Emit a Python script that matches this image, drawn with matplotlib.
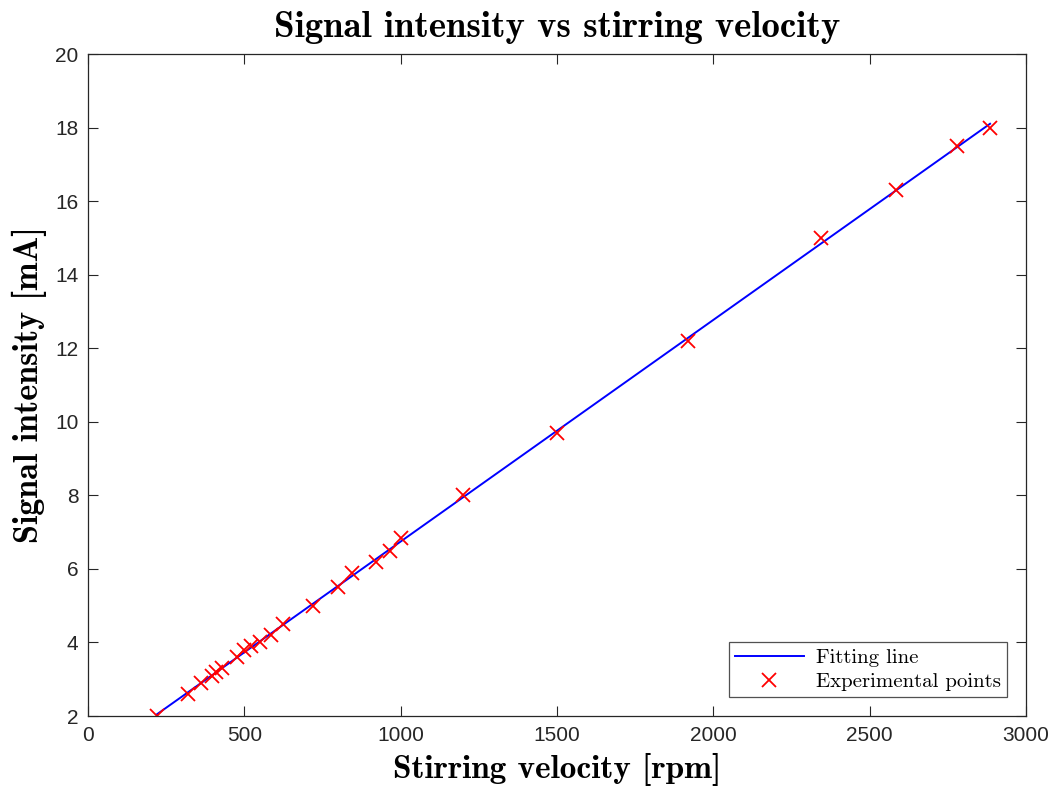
import numpy as np
import matplotlib
matplotlib.use("Agg")
import matplotlib.pyplot as plt

# Data
rpm = [220, 320, 360, 395, 410, 430, 475, 500, 520, 550, 585, 625,
       720, 800, 845, 920, 965, 1000, 1200, 1500, 1920, 2345, 2585, 2780, 2885]
signal = [2.0, 2.6, 2.9, 3.1, 3.2, 3.3, 3.6, 3.8, 3.9, 4.0, 4.2, 4.5,
          5.0, 5.5, 5.9, 6.2, 6.5, 6.85, 8.0, 9.7, 12.2, 15.0, 16.3, 17.5, 18.0]
xticks = [0, 500, 1000, 1500, 2000, 2500, 3000]
yticks = [2, 4, 6, 8, 10, 12, 14, 16, 18, 20]

x = np.array(rpm, dtype=float)
y = np.array(signal, dtype=float)
coef = np.polyfit(x, y, 1)
xf = np.array([x.min(), x.max()])
yf = np.polyval(coef, xf)

fig = plt.figure(figsize=(10.54, 7.89), dpi=100)
ax = fig.add_axes([88/1054, 1-716/789, (1026-88)/1054, (716-54)/789])

ax.plot(xf, yf, color=(0, 0, 1), lw=1.4, label="Fitting line")
ax.plot(x, y, linestyle="none", marker="x", color=(1, 0, 0), markersize=9.5,
        markeredgewidth=1.3, label="Experimental points")

ax.set_xlim(0, 3000)
ax.set_ylim(2, 20)
ax.set_xticks(xticks)
ax.set_yticks(yticks)
ax.tick_params(direction="in", top=True, right=True, length=7, width=0.8,
               colors=(0.15, 0.15, 0.15), labelsize=15, pad=7)
for lab in ax.get_xticklabels() + ax.get_yticklabels():
    lab.set_fontfamily("Liberation Sans")
for s in ax.spines.values():
    s.set_color((0.15, 0.15, 0.15))
    s.set_linewidth(0.9)

ax.set_title("Signal intensity vs stirring velocity", fontname="cmb10",
             fontsize=26.5, pad=12)
ax.set_xlabel("Stirring velocity [rpm]", fontname="cmb10", fontsize=24, labelpad=6)
ax.set_ylabel("Signal intensity [mA]", fontname="cmb10", fontsize=24.5, labelpad=6)

leg = ax.legend(loc="lower right", prop={"family": "cmr10", "size": 15},
                frameon=True, fancybox=False, edgecolor=(0.15, 0.15, 0.15),
                borderaxespad=0.9, handlelength=3.3, labelspacing=0.25,
                borderpad=0.3, handletextpad=0.6)
leg.get_frame().set_linewidth(0.9)

fig.savefig("out.png", dpi=100)
